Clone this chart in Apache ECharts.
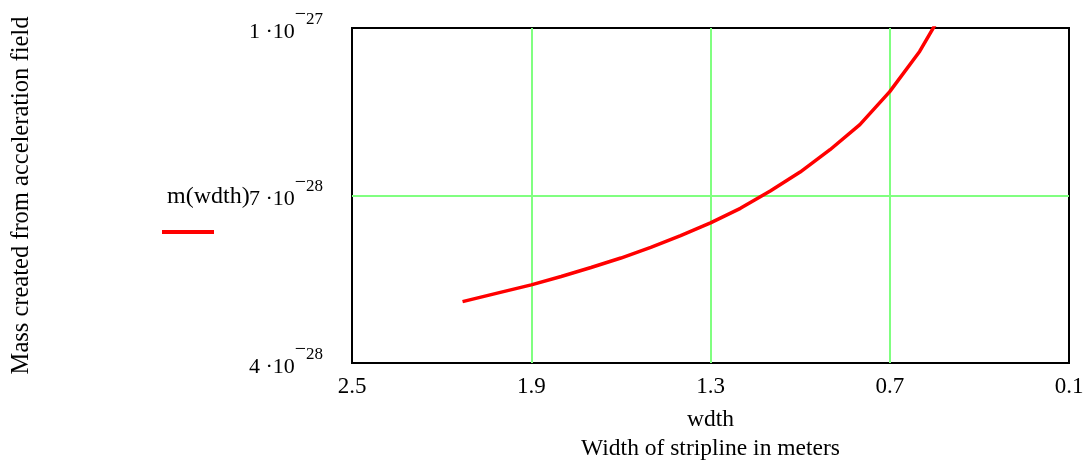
<!DOCTYPE html>
<html>
<head>
<meta charset="utf-8">
<script src="https://cdn.jsdelivr.net/npm/echarts@6/dist/echarts.min.js"></script>
<style>
html,body{margin:0;padding:0;background:#fff;}
#chart{width:1090px;height:463px;}
</style>
</head>
<body>
<div id="chart"></div>
<script>
// Width of stripline (m)
const widths = [2.13, 2.0, 1.9, 1.8, 1.7, 1.6, 1.5, 1.4, 1.3, 1.2, 1.1, 1.0, 0.9, 0.8, 0.7, 0.6, 0.5];
// Mass m(wdth), in units of 1e-28
const massUnits = [5.10, 5.27, 5.40, 5.55, 5.71, 5.88, 6.07, 6.28, 6.51, 6.77, 7.08, 7.42, 7.82, 8.27, 8.86, 9.58, 10.5];
const MASS_UNIT = 1e-28;

const xTickValues = [2.5, 1.9, 1.3, 0.7, 0.1];
const xTickLabels = ['2.5', '1.9', '1.3', '0.7', '0.1'];
const xGridValues = [1.9, 1.3, 0.7];

const yTickValues = [4, 7, 10];          // in units of 1e-28
const yTickMantissa = ['4', '7', '1'];
const yTickExponent = ['28', '28', '27'];
const yGridValues = [7];

const seriesName = 'm(wdth)';
const xName = 'wdth\nWidth of stripline in meters';
const yName = 'Mass created from acceleration field';

const FONT = '"Liberation Serif", "Times New Roman", Times, serif';

const chart = echarts.init(document.getElementById('chart'), null, {renderer: 'canvas'});

function findIdx(arr, v) {
  for (let i = 0; i < arr.length; i++) if (Math.abs(arr[i] - v) < 1e-6) return i;
  return -1;
}

const data = widths.map((w, i) => [w, massUnits[i]]);

const gridMarks = xGridValues.map(v => ({xAxis: v})).concat(yGridValues.map(v => ({yAxis: v})));

chart.setOption({
  animation: false,
  backgroundColor: '#fff',
  grid: {
    left: 352, right: 21, top: 28, bottom: 100,
    containLabel: false,
    outerBoundsMode: 'none',
    show: true, borderColor: '#000', borderWidth: 2, backgroundColor: '#fff'
  },
  legend: {
    data: [seriesName],
    left: 162, top: 230, padding: 0,
    itemWidth: 52, itemHeight: 4, icon: 'rect',
    formatter: () => '',
    textStyle: {fontSize: 4, lineHeight: 4},
    selectedMode: false
  },
  graphic: [{
    type: 'text',
    x: 167, y: 197,
    style: {text: seriesName, font: '24px ' + FONT, fill: '#000', verticalAlign: 'middle', align: 'left'}
  }],
  xAxis: {
    type: 'value',
    inverse: true,
    min: 0.1, max: 2.5, interval: 0.1,
    axisLine: {show: false},
    axisTick: {show: false},
    splitLine: {show: false},
    axisLabel: {
      margin: 13,
      fontFamily: FONT, fontSize: 23, lineHeight: 22, color: '#000',
      formatter: v => { const i = findIdx(xTickValues, v); return i >= 0 ? xTickLabels[i] : ''; }
    },
    name: xName,
    nameLocation: 'middle',
    nameGap: 42,
    nameTextStyle: {fontFamily: FONT, fontSize: 23.5, lineHeight: 29, color: '#000'}
  },
  yAxis: {
    type: 'value',
    min: 4, max: 10, interval: 1,
    axisLine: {show: false},
    axisTick: {show: false},
    splitLine: {show: false},
    axisLabel: {
      margin: 29,
      padding: [8, 0, 0, 0],
      color: '#000',
      formatter: v => {
        const i = findIdx(yTickValues, v);
        if (i < 0) return '';
        return '{m|' + yTickMantissa[i] + ' \u00b710}{b|\u2212}{s|' + yTickExponent[i] + '}';
      },
      rich: {
        m: {fontFamily: FONT, fontSize: 22, lineHeight: 22, color: '#000'},
        b: {fontFamily: FONT, fontSize: 20, lineHeight: 22, padding: [0, 0, 34, 0], color: '#000'},
        s: {fontFamily: FONT, fontSize: 17, lineHeight: 22, padding: [0, 0, 25, 0], color: '#000'}
      }
    },
    name: yName,
    nameLocation: 'middle',
    nameRotate: 90,
    nameGap: 318,
    nameTextStyle: {fontFamily: FONT, fontSize: 24.5, color: '#000'}
  },
  series: [
    {
      name: 'grid',
      type: 'line',
      data: [],
      z: 1,
      silent: true,
      markLine: {
        z: 1,
        silent: true,
        animation: false,
        symbol: ['none', 'none'],
        label: {show: false},
        lineStyle: {color: '#80ff80', width: 2, type: 'solid'},
        emphasis: {disabled: true},
        data: gridMarks
      }
    },
    {
      name: seriesName,
      type: 'line',
      z: 3,
      data: data,
      showSymbol: false,
      smooth: false,
      clip: true,
      lineStyle: {color: '#ff0000', width: 3.5},
      itemStyle: {color: '#ff0000'},
      emphasis: {disabled: true}
    }
  ]
});
</script>
</body>
</html>
